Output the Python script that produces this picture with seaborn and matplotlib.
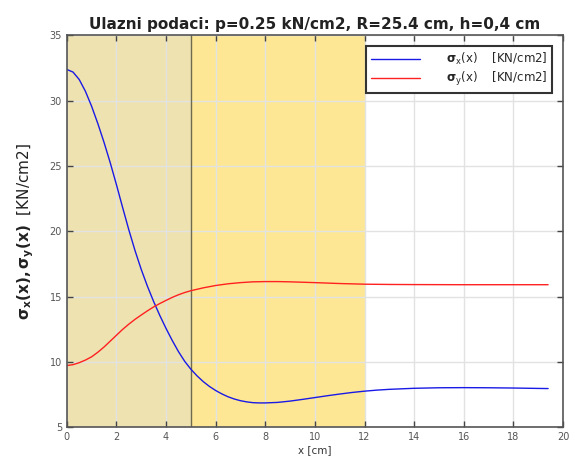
import matplotlib
matplotlib.use("Agg")
import matplotlib.pyplot as plt
import seaborn as sns
import numpy as np

# Data
x_blue = [0, 0.25, 0.5, 0.75, 1.0, 1.25, 1.5, 1.75, 2.0, 2.25, 2.5, 2.75, 3.0, 3.25,
          3.5, 3.75, 4.0, 4.25, 4.5, 4.75, 5.0, 5.25, 5.5, 5.75, 6.0, 6.25, 6.5, 6.75,
          7.0, 7.25, 7.5, 7.75, 8.0, 8.5, 9.0, 9.5, 10.0, 10.5, 11.0, 11.5, 12.0,
          12.5, 13.0, 14.0, 15.0, 16.0, 17.0, 18.0, 19.0, 19.4]
sigma_x = [32.4, 32.2, 31.63, 30.73, 29.58, 28.26, 26.82, 25.26, 23.58, 21.83, 20.12,
           18.53, 17.09, 15.8, 14.63, 13.56, 12.57, 11.65, 10.8, 10.06, 9.45, 8.94,
           8.5, 8.13, 7.82, 7.56, 7.34, 7.17, 7.04, 6.95, 6.89, 6.87, 6.87, 6.91, 7.01,
           7.14, 7.28, 7.42, 7.55, 7.67, 7.77, 7.85, 7.91, 7.99, 8.03, 8.04, 8.03,
           8.01, 7.98, 7.97]
x_red = [0, 0.25, 0.5, 0.75, 1.0, 1.25, 1.5, 1.75, 2.0, 2.25, 2.5, 2.75, 3.0, 3.25,
         3.5, 3.75, 4.0, 4.25, 4.5, 4.75, 5.0, 5.5, 6.0, 6.5, 7.0, 7.5, 8.0, 8.5, 9.0,
         10.0, 11.0, 12.0, 13.0, 14.0, 16.0, 18.0, 19.4]
sigma_y = [9.73, 9.8, 9.95, 10.15, 10.4, 10.75, 11.15, 11.6, 12.05, 12.5, 12.9, 13.27,
           13.6, 13.92, 14.22, 14.48, 14.72, 14.95, 15.15, 15.32, 15.46, 15.68, 15.86,
           15.99, 16.08, 16.14, 16.16, 16.16, 16.14, 16.08, 16.01, 15.96, 15.94, 15.93,
           15.92, 15.92, 15.92]
zone1 = (0, 5)
zone2 = (5, 12)
title = "Ulazni podaci: p=0.25 kN/cm2, R=25.4 cm, h=0,4 cm"
label_x = r"$\mathbf{\sigma}_{\rm x}$(x)    [KN/cm2]"
label_y = r"$\mathbf{\sigma}_{\rm y}$(x)    [KN/cm2]"

sns.set_style("white")
plt.rcParams['font.family'] = ['DejaVu Sans']

fig = plt.figure(figsize=(5.71, 4.61), dpi=100)
ax = fig.add_axes([0.117, 0.073, 0.869, 0.850])

ax.axvspan(*zone1, color='#EEE2B0', zorder=0.2, lw=0)
ax.axvspan(*zone2, color='#FEE794', zorder=0.2, lw=0)
ax.axvline(zone1[1], color='#6E6A50', lw=1.0, zorder=1.5)

sns.lineplot(x=x_blue, y=sigma_x, color='#1A1AE6', lw=1.0, ax=ax, label=label_x)
sns.lineplot(x=x_red, y=sigma_y, color='#FF2020', lw=1.0, ax=ax, label=label_y)

ax.set_xlim(0, 20)
ax.set_ylim(5, 35)
ax.set_xticks(np.arange(0, 21, 2))
ax.set_yticks(np.arange(5, 36, 5))
ax.grid(True, color='#E2E2E2', lw=1.0)
ax.set_axisbelow(True)
ax.tick_params(direction='in', length=4, width=1, colors='#444444', labelsize=7,
               labelcolor='#555555', top=True, right=True, bottom=True, left=True)
for s in ax.spines.values():
    s.set_color('#555555')
    s.set_linewidth(1.2)

ax.set_xlabel("x [cm]", fontsize=7.5, color='#333333', labelpad=2)
ax.set_ylabel(r"$\mathbf{\sigma_x(x), \sigma_y(x)}$  [KN/cm2]", fontsize=11, color='#222222', labelpad=10)
ax.set_title(title, fontsize=11, fontweight='bold', color='#222222', pad=5)

leg = ax.legend(loc='upper right', fontsize=8.5, fancybox=False, frameon=True,
                edgecolor='#333333', framealpha=1, handlelength=4.2,
                borderaxespad=0.9, handletextpad=2.2, borderpad=0.4, labelspacing=0.25)
leg.get_frame().set_linewidth(1.5)

fig.savefig("out.png", dpi=100)
